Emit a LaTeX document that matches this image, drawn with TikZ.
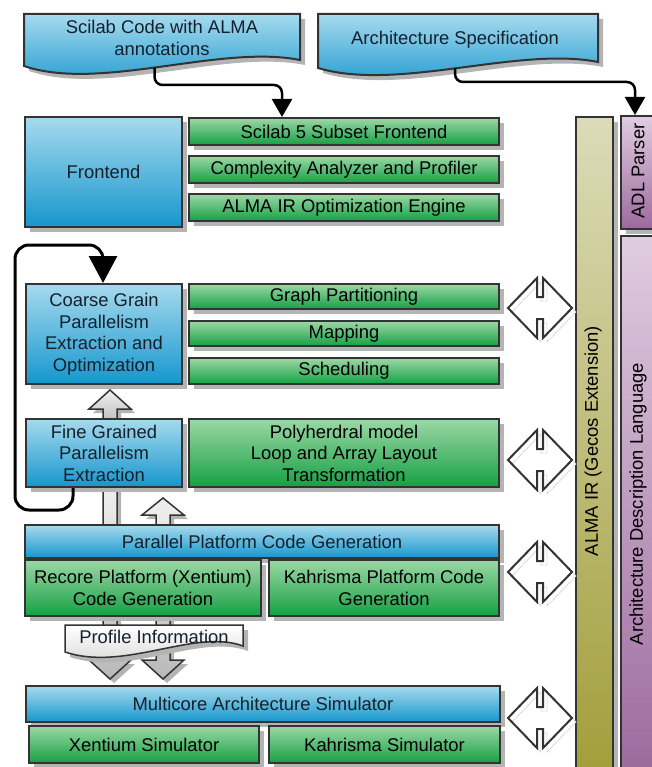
\documentclass[tikz,border=0pt]{standalone}
\usepackage{fontspec}
\setmainfont{Liberation Sans}
\usetikzlibrary{arrows.meta, shadows, positioning}

\definecolor{almaLine}{HTML}{333333}
\definecolor{blueTop}{HTML}{A6DAEE}
\definecolor{blueBot}{HTML}{1696CD}
\definecolor{greenTop}{HTML}{9BD8A5}
\definecolor{greenBot}{HTML}{16A044}
\definecolor{oliveTop}{HTML}{DCDBB8}
\definecolor{oliveBot}{HTML}{A19E3A}
\definecolor{plumTop}{HTML}{E0CCE0}
\definecolor{plumBot}{HTML}{9C6A9E}
\definecolor{shadowGray}{HTML}{B4B4B4}
\definecolor{textDark}{HTML}{15202B}

\tikzset{
  box/.style={draw=almaLine, line width=2pt, inner sep=2pt, align=center,
    anchor=north west, text=textDark,
    drop shadow={shadow xshift=5pt, shadow yshift=-5pt, fill=shadowGray, opacity=1}},
  bluebox/.style={box, top color=blueTop, bottom color=blueBot},
  greenbox/.style={box, top color=greenTop, bottom color=greenBot, text=black},
  olivebar/.style={box, top color=oliveTop, bottom color=oliveBot},
  plumbar/.style={box, top color=plumTop, bottom color=plumBot},
  docshape/.style={draw=almaLine, line width=2pt, top color=blueTop, bottom color=blueBot,
    drop shadow={shadow xshift=5pt, shadow yshift=-5pt, fill=shadowGray, opacity=1}},
  flowarrow/.style={draw=black, line width=2.5pt, rounded corners=8pt,
    -{Triangle[width=20pt, length=18pt]}},
  looparrow/.style={draw=black, line width=3pt, rounded corners=14pt,
    -{Triangle[width=28pt, length=27pt]}},
  blockarrow/.style={draw=almaLine, line width=1.5pt, top color=gray!12, bottom color=gray!55,
    drop shadow={shadow xshift=4pt, shadow yshift=-4pt, fill=shadowGray, opacity=1}},
  linkshadow/.style={draw=gray!30, line width=0.8pt},
  link/.style={draw=almaLine, line width=2pt}
}

\begin{document}
\begin{tikzpicture}[x=1pt, y=-1pt, font=\fontsize{18.4}{21.5}\selectfont]
  \useasboundingbox (0,0) rectangle (651,767);

  % input documents
  \draw[docshape] (24,14) -- (300,14) -- (300,60)
    .. controls (220,44) and (100,92) .. (24,66) coordinate[pos=0.52] (scilabOut) -- cycle;
  \node[text=textDark, align=center] (scilabDoc) at (162,38) {Scilab Code with ALMA\\annotations};
  \draw[docshape] (318,14) -- (598,14) -- (598,62)
    .. controls (518,46) and (398,92) .. (318,68) coordinate[pos=0.51] (specOut) -- cycle;
  \node[text=textDark] (specDoc) at (455,40) {Architecture Specification};

  % gray block arrows (behind the boxes)
  \draw[blockarrow] (103,425) -- (103,409) -- (89,409) -- (110,390) -- (131,409)
    -- (117,409) -- (117,425) -- cycle;
  \draw[blockarrow] (103,480) -- (103,660) -- (89,660) -- (110,679) -- (131,660)
    -- (117,660) -- (117,480) -- cycle;
  \draw[blockarrow] (163,498) -- (184,515) -- (170,515) -- (170,660) -- (184,660)
    -- (163,679) -- (142,660) -- (156,660) -- (156,515) -- (142,515) -- cycle;

  % frontend
  \node[bluebox, minimum width=157pt, minimum height=110pt] (frontend) at (24,116) {Frontend};
  \node[greenbox, minimum width=310pt, minimum height=27pt] (scilab5) at (188,117) {Scilab 5 Subset Frontend};
  \node[greenbox, minimum width=310pt, minimum height=27pt] (complexity) at (188,155) {Complexity Analyzer and Profiler};
  \node[greenbox, minimum width=310pt, minimum height=27pt] (optEngine) at (188,193) {ALMA IR Optimization Engine};

  % coarse grain
  \node[bluebox, minimum width=156pt, minimum height=100pt] (coarse) at (25,283)
    {Coarse Grain\\Parallelism\\Extraction and\\Optimization};
  \node[greenbox, minimum width=310pt, minimum height=25pt] (graphPart) at (188,283) {Graph Partitioning};
  \node[greenbox, minimum width=310pt, minimum height=25pt] (mapping) at (188,320) {Mapping};
  \node[greenbox, minimum width=310pt, minimum height=26pt] (scheduling) at (188,357) {Scheduling};

  % fine grain
  \node[bluebox, minimum width=156pt, minimum height=68pt] (fine) at (25,418)
    {Fine Grained\\Parallelism\\Extraction};
  \node[greenbox, minimum width=310pt, minimum height=68pt] (polyhedral) at (188,418)
    {Polyherdral model\\Loop and Array Layout\\Transformation};

  % code generation
  \node[bluebox, minimum width=474pt, minimum height=33pt] (parallelGen) at (24,524) {Parallel Platform Code Generation};
  \node[greenbox, minimum width=236pt, minimum height=56pt] (recoreGen) at (24,559)
    {Recore Platform (Xentium)\\Code Generation};
  \node[greenbox, minimum width=230pt, minimum height=56pt] (kahrismaGen) at (268,559)
    {Kahrisma Platform Code\\Generation};

  % profile information
  \draw[draw=almaLine, line width=1.5pt, top color=white, bottom color=gray!35,
    drop shadow={shadow xshift=5pt, shadow yshift=-5pt, fill=shadowGray, opacity=1}]
    (65,625) -- (243,625) -- (243,646) .. controls (195,628) and (125,672) .. (65,652) -- cycle;
  \node[text=textDark] (profileInfo) at (154,637) {Profile Information};

  % simulator
  \node[bluebox, minimum width=474pt, minimum height=36pt] (simulator) at (25,685) {Multicore Architecture Simulator};
  \node[greenbox, minimum width=230pt, minimum height=37pt] (xentiumSim) at (28,725) {Xentium Simulator};
  \node[greenbox, minimum width=231pt, minimum height=37pt] (kahrismaSim) at (268,725) {Kahrisma Simulator};

  % right hand bars
  \node[olivebar, minimum width=37pt, minimum height=660pt] (almaIR) at (575,116) {};
  \node[rotate=90] (almaIRtext) at (593,441) {ALMA IR (Gecos Extension)};
  \node[plumbar, minimum width=40pt, minimum height=113pt] (adlParser) at (620,115) {};
  \node[rotate=90] (adlParserText) at (638,171) {ADL Parser};
  \node[plumbar, minimum width=40pt, minimum height=540pt] (adlLang) at (620,235) {};
  \node[rotate=90] (adlLangText) at (638,504) {Architecture Description Language};

  % links to the IR
  \foreach \cy in {308,460,572,718}{
    \draw[linkshadow, shift={(544,\cy+4)}] (-32,0) -- (-3,-30) -- (-3,-11) -- (3,-11) -- (3,-30)
      -- (32,0) -- (3,30) -- (3,11) -- (-3,11) -- (-3,30) -- cycle;
    \draw[link, shift={(540,\cy)}] (-32,0) -- (-3,-30) -- (-3,-11) -- (3,-11) -- (3,-30)
      -- (32,0) -- (3,30) -- (3,11) -- (-3,11) -- (-3,30) -- cycle;
  }

  % flow arrows
  \draw[flowarrow] (scilabOut) |- (282,85) -- (282,0 |- scilab5.north);
  \draw[flowarrow] (specOut) |- (635,82) -- (635,0 |- adlParser.north);
  \draw[looparrow] (fine.south -| 73,0) -- (73,510) -- (15,510) -- (15,245) -- (103,245)
    -- (103,0 |- coarse.north);
\end{tikzpicture}
\end{document}
